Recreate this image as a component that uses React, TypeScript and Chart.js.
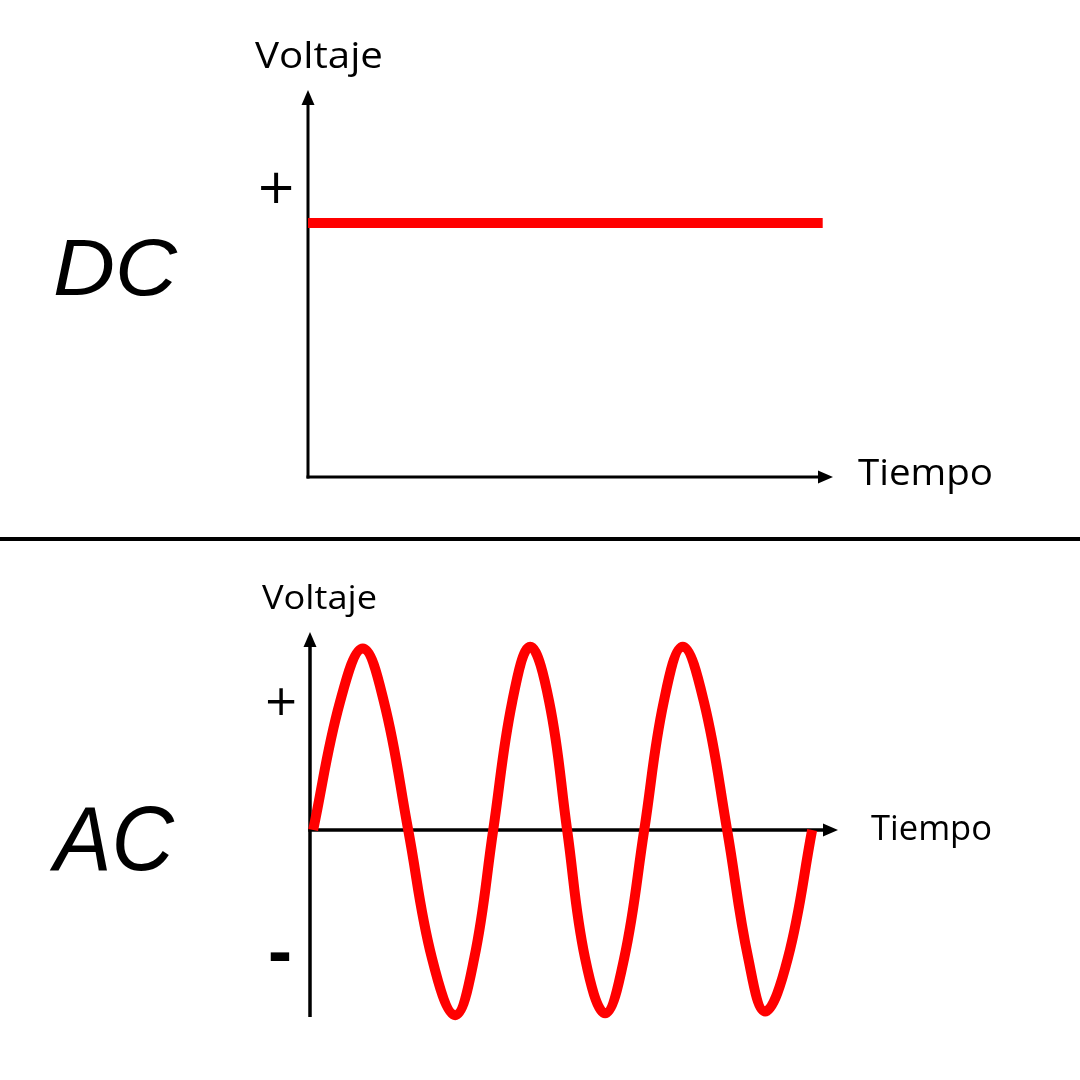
import React, { useEffect, useRef } from "react";
import { Chart, registerables } from "chart.js";

Chart.register(...registerables);

// ---- data (crossings, ±0.7 flank points, peaks/troughs) ----
const dcTime = [0, 10];
const dcVoltage = [1, 1];
const acTime = [
  0.6, 5.7, 10.0, 14.0, 18.6, 23.1, 27.5, 31.1, 34.7, 38.3, 41.7, 45.3, 48.7,
  52.1, 55.9, 59.5, 63.3, 67.0, 70.6, 74.6, 79.0, 83.0, 86.2, 90.5, 95.1,
];
const acVoltage = [
  0, 0.7, 0.99, 0.7, 0, -0.7, -1.01, -0.7, 0, 0.7, 1, 0.7, 0,
  -0.7, -1, -0.7, 0, 0.7, 1, 0.7, 0, -0.7, -0.99, -0.7, 0,
];
const yAxisLabel = "Voltaje";
const xAxisLabel = "Tiempo";
const dcTitle = "DC";
const acTitle = "AC";
const plusLabel = "+";
const minusLabel = "-";

const RED = "#ff0000";

function fitText(
  ctx: CanvasRenderingContext2D,
  text: string,
  x: number,
  baseline: number,
  font: string,
  targetWidth: number
) {
  ctx.save();
  ctx.font = font;
  ctx.textAlign = "left";
  ctx.textBaseline = "alphabetic";
  const w = ctx.measureText(text).width;
  const sx = targetWidth / w;
  ctx.translate(x, baseline);
  ctx.scale(sx, 1);
  ctx.fillText(text, 0, 0);
  ctx.restore();
}

function centerText(ctx: CanvasRenderingContext2D, text: string, cx: number, cy: number, font: string) {
  ctx.save();
  ctx.font = font;
  ctx.textAlign = "center";
  ctx.textBaseline = "middle";
  ctx.fillText(text, cx, cy);
  ctx.restore();
}

type PanelOpts = {
  axisWidth: number;
  yAxisBelow: boolean;
  labels: (ctx: CanvasRenderingContext2D, area: any) => void;
};

function makePlugin(opts: PanelOpts) {
  return {
    id: "customAxes",
    beforeDatasetsDraw(chart: any) {
      const { ctx, chartArea } = chart;
      const xs = chart.scales.x;
      const ys = chart.scales.y;
      const x0 = xs.getPixelForValue(0);
      const y0 = ys.getPixelForValue(0);
      const head = 15;
      const half = 6.5;
      ctx.save();
      ctx.strokeStyle = "#000";
      ctx.fillStyle = "#000";
      ctx.lineWidth = opts.axisWidth;
      ctx.lineCap = "butt";
      // y axis
      ctx.beginPath();
      ctx.moveTo(x0, opts.yAxisBelow ? chartArea.bottom : y0 + opts.axisWidth / 2);
      ctx.lineTo(x0, chartArea.top + head - 1);
      ctx.stroke();
      ctx.beginPath();
      ctx.moveTo(x0, chartArea.top);
      ctx.lineTo(x0 - half, chartArea.top + head);
      ctx.lineTo(x0 + half, chartArea.top + head);
      ctx.closePath();
      ctx.fill();
      // x axis
      ctx.beginPath();
      ctx.moveTo(x0 - opts.axisWidth / 2, y0);
      ctx.lineTo(chartArea.right - head + 1, y0);
      ctx.stroke();
      ctx.beginPath();
      ctx.moveTo(chartArea.right, y0);
      ctx.lineTo(chartArea.right - head, y0 - half);
      ctx.lineTo(chartArea.right - head, y0 + half);
      ctx.closePath();
      ctx.fill();
      ctx.restore();
    },
    afterDraw(chart: any) {
      const { ctx, chartArea } = chart;
      ctx.save();
      ctx.fillStyle = "#000";
      opts.labels(ctx, chartArea);
      ctx.restore();
    },
  };
}

function buildChart(
  canvas: HTMLCanvasElement,
  time: number[],
  volts: number[],
  xMax: number,
  yMin: number,
  yMax: number,
  padding: { left: number; right: number; top: number; bottom: number },
  lineWidth: number,
  plugin: any
) {
  return new Chart(canvas, {
    type: "line",
    data: {
      datasets: [
        {
          data: time.map((t, i) => ({ x: t, y: volts[i] })),
          borderColor: RED,
          borderWidth: lineWidth,
          pointRadius: 0,
          fill: false,
          tension: 0.4,
          borderCapStyle: "butt",
          borderJoinStyle: "round",
          clip: false as any,
        },
      ],
    },
    options: {
      responsive: false,
      animation: false,
      devicePixelRatio: 1,
      layout: { padding },
      plugins: { legend: { display: false }, tooltip: { enabled: false }, title: { display: false } },
      scales: {
        x: { type: "linear", min: 0, max: xMax, display: false },
        y: { type: "linear", min: yMin, max: yMax, display: false },
      },
    },
    plugins: [plugin],
  } as any);
}

export default function App() {
  const topRef = useRef<HTMLCanvasElement>(null);
  const botRef = useRef<HTMLCanvasElement>(null);

  useEffect(() => {
    const label = "'Open Sans', sans-serif";
    const topPlugin = makePlugin({
      axisWidth: 3,
      yAxisBelow: false,
      labels: (ctx) => {
        fitText(ctx, yAxisLabel, 255, 68, `500 36px ${label}`, 128);
        fitText(ctx, xAxisLabel, 858, 485, `500 37px ${label}`, 135);
        centerText(ctx, plusLabel, 276, 191, "48px 'DejaVu Sans'");
        fitText(ctx, dcTitle, 53, 295, "italic 80px 'Liberation Sans'", 124);
      },
    });
    const botPlugin = makePlugin({
      axisWidth: 3.5,
      yAxisBelow: true,
      labels: (ctx) => {
        fitText(ctx, yAxisLabel, 262, 609 - 540, `500 32px ${label}`, 115);
        fitText(ctx, xAxisLabel, 871, 840 - 540, `500 34px ${label}`, 121);
        centerText(ctx, plusLabel, 281, 704 - 540, "42px 'DejaVu Sans'");
        centerText(ctx, minusLabel, 280, 958 - 540, "bold 60px 'DejaVu Sans'");
        fitText(ctx, acTitle, 54, 870 - 540, "italic 90px 'Liberation Sans'", 120);
      },
    });

    const c1 = buildChart(
      topRef.current!,
      dcTime,
      dcVoltage,
      10.2,
      0,
      1.524,
      { left: 308, right: 1080 - 833, top: 90, bottom: 540 - 477 },
      10,
      topPlugin
    );
    const c2 = buildChart(
      botRef.current!,
      acTime,
      acVoltage,
      100,
      -1.02,
      1.08,
      { left: 310, right: 1080 - 838, top: 92, bottom: 540 - 477 },
      10,
      botPlugin
    );
    return () => {
      c1.destroy();
      c2.destroy();
    };
  }, []);

  return (
    <div style={{ position: "absolute", left: 0, top: 0, width: 1080, height: 1080, background: "#fff" }}>
      <canvas ref={topRef} width={1080} height={540} style={{ position: "absolute", left: 0, top: 0, width: 1080, height: 540 }} />
      <canvas ref={botRef} width={1080} height={540} style={{ position: "absolute", left: 0, top: 540, width: 1080, height: 540 }} />
      <div style={{ position: "absolute", left: 0, top: 537, width: 1080, height: 4, background: "#000" }} />
    </div>
  );
}
